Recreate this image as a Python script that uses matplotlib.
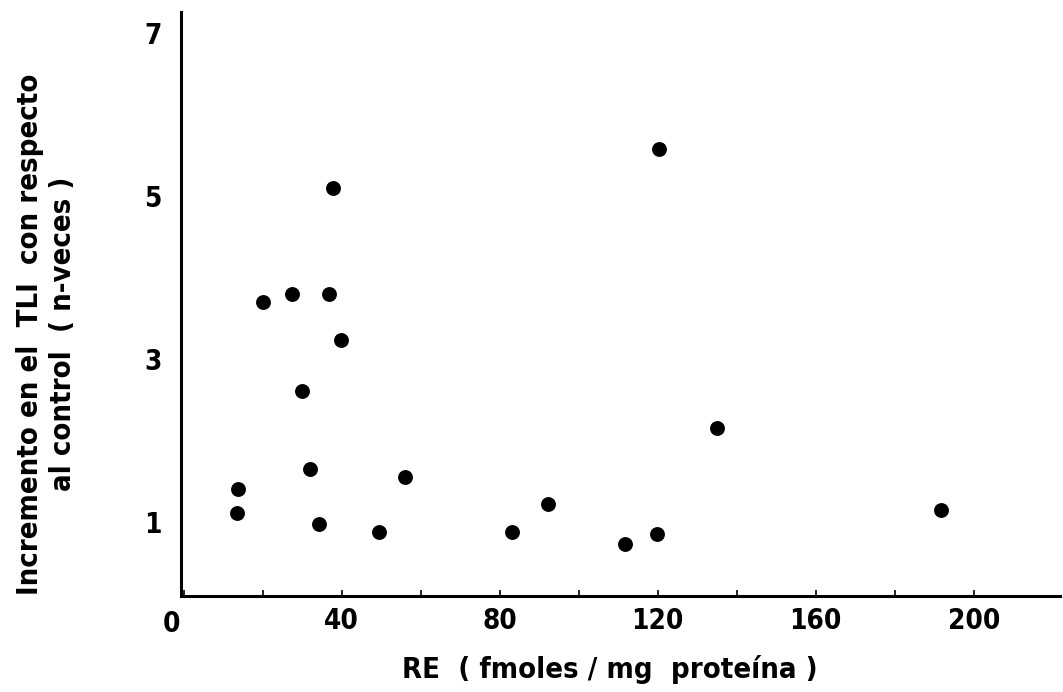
import matplotlib
matplotlib.use("Agg")
import matplotlib.pyplot as plt
from matplotlib import font_manager as fm

# RE (fmoles/mg proteina) vs incremento en el TLI
re_vals = [13.7, 13.6, 20.1, 27.3, 29.9, 36.8, 37.7, 39.8, 31.9, 34.3,
           49.4, 55.9, 83.2, 92.2, 111.7, 120.3, 119.9, 134.9, 191.6]
tli_vals = [1.40, 1.11, 3.70, 3.79, 2.61, 3.80, 5.10, 3.23, 1.65, 0.97,
            0.88, 1.55, 0.87, 1.22, 0.73, 5.57, 0.85, 2.15, 1.14]

x_ticks = [0, 20, 40, 60, 80, 100, 120, 140, 160, 180, 200]
x_labels = ['', '', '40', '', '80', '', '120', '', '160', '', '200']
y_ticks = [1, 3, 5, 7]

# look for a narrow bold font, otherwise plain DejaVu Sans
narrow = None
for f in fm.fontManager.ttflist:
    nm = f.name.lower()
    if ('narrow' in nm or 'condensed' in nm or 'condensed' in str(f.stretch)) \
            and f.weight in ('bold', 700, 'semibold', 600):
        narrow = f.fname
        break

if narrow:
    fp = fm.FontProperties(fname=narrow)
    tick_fs, lab_fs = 20, 21
else:
    fp = fm.FontProperties(family='DejaVu Sans', weight='bold')
    tick_fs, lab_fs = 17, 19

fig = plt.figure(figsize=(10.63, 6.92), dpi=100)
ax = fig.add_axes([0.170, 0.139, 0.827, 0.844])

ax.scatter(re_vals, tli_vals, s=115, color='black', zorder=3, linewidths=0)

ax.set_xlim(-0.76, 221.8)
ax.set_ylim(0.092, 7.26)

for s in ['top', 'right']:
    ax.spines[s].set_visible(False)
for s in ['left', 'bottom']:
    ax.spines[s].set_linewidth(2.2)

ax.set_xticks(x_ticks)
ax.set_xticklabels(x_labels, fontproperties=fp, fontsize=tick_fs)
ax.tick_params(axis='x', direction='in', length=4, width=1.2, pad=8)
ax.set_yticks(y_ticks)
ax.set_yticklabels([str(v) for v in y_ticks], fontproperties=fp, fontsize=tick_fs)
ax.tick_params(axis='y', length=0, pad=14)

ax.text(-3, -0.08, '0', fontproperties=fp, fontsize=tick_fs, ha='center', va='top')

fig.text(0.574, 0.032, 'RE  ( fmoles / mg  proteína )', fontproperties=fp,
         fontsize=lab_fs, ha='center', va='center')
fig.text(0.028, 0.517, 'Incremento en el  TLI  con respecto', fontproperties=fp,
         fontsize=lab_fs, ha='center', va='center', rotation=90)
fig.text(0.059, 0.517, 'al control  ( n-veces )', fontproperties=fp,
         fontsize=lab_fs, ha='center', va='center', rotation=90)

fig.savefig('out.png', dpi=100)
